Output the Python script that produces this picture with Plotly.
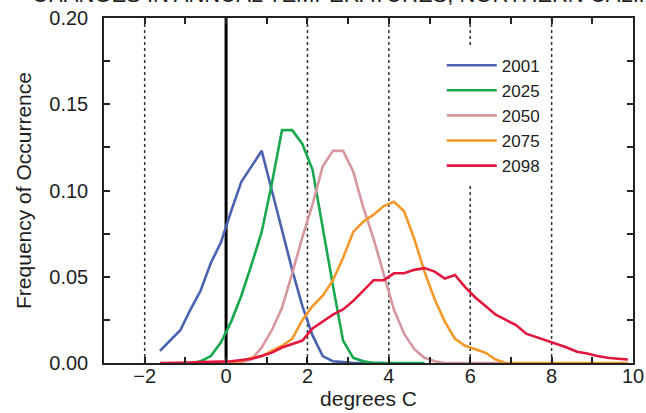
import plotly.graph_objects as go

# ---- data ----
years = ["2001", "2025", "2050", "2075", "2098"]
colors = ["#4a62b0", "#18a84e", "#d6979f", "#f5982a", "#e2163e"]

x_2001 = [-1.625, -1.375, -1.125, -0.875, -0.625, -0.375, -0.125, 0.125, 0.375, 0.625, 0.875,
          1.125, 1.375, 1.625, 1.875, 2.125, 2.375, 2.625, 2.875, 3.125, 3.375, 3.625, 3.875]
y_2001 = [0.007, 0.013, 0.019, 0.031, 0.042, 0.058, 0.070, 0.088, 0.105, 0.114, 0.123,
          0.100, 0.077, 0.054, 0.033, 0.016, 0.004, 0.001, 0.0005, 0.0, 0.0, 0.0, 0.0]

x_2025 = [-0.875, -0.625, -0.375, -0.125, 0.125, 0.375, 0.625, 0.875, 1.125, 1.375, 1.625,
          1.875, 2.125, 2.375, 2.625, 2.875, 3.125, 3.375, 3.625, 3.875, 4.125, 4.375, 4.625, 4.875]
y_2025 = [0.0, 0.001, 0.004, 0.012, 0.024, 0.039, 0.057, 0.076, 0.104, 0.135, 0.135,
          0.127, 0.112, 0.078, 0.045, 0.013, 0.003, 0.001, 0.0, 0.0, 0.0, 0.0, 0.0, 0.0]

x_2050 = [0.125, 0.375, 0.625, 0.875, 1.125, 1.375, 1.625, 1.875, 2.125, 2.375, 2.625, 2.875,
          3.125, 3.375, 3.625, 3.875, 4.125, 4.375, 4.625, 4.875, 5.125, 5.375, 5.625, 5.875,
          6.125, 6.375, 6.625, 6.875]
y_2050 = [0.0, 0.0005, 0.002, 0.009, 0.019, 0.032, 0.052, 0.073, 0.092, 0.114, 0.123, 0.123,
          0.111, 0.090, 0.072, 0.052, 0.031, 0.017, 0.008, 0.003, 0.001, 0.0, 0.0, 0.0,
          0.0, 0.0, 0.0, 0.0]

x_2075 = [-0.125, 0.125, 0.375, 0.625, 0.875, 1.125, 1.375, 1.625, 1.875, 2.125, 2.375, 2.625,
          2.875, 3.125, 3.375, 3.625, 3.875, 4.125, 4.375, 4.625, 4.875, 5.125, 5.375, 5.625,
          5.875, 6.125, 6.375, 6.625, 6.875, 7.125, 7.375, 7.625, 7.875, 8.125, 8.375, 8.625,
          8.875, 9.125, 9.375, 9.625, 9.875]
y_2075 = [0.0, 0.0005, 0.001, 0.003, 0.004, 0.007, 0.010, 0.014, 0.025, 0.033, 0.039, 0.048,
          0.061, 0.076, 0.082, 0.086, 0.091, 0.0935, 0.088, 0.072, 0.053, 0.037, 0.024, 0.014,
          0.010, 0.008, 0.006, 0.002, 0.0, 0.0, 0.0, 0.0, 0.0, 0.0, 0.0, 0.0,
          0.0, 0.0, 0.0, 0.0, 0.0]

x_2098 = [-1.625, -1.375, -1.125, -0.875, -0.625, -0.375, -0.125, 0.125, 0.375, 0.625, 0.875,
          1.125, 1.375, 1.625, 1.875, 2.125, 2.375, 2.625, 2.875, 3.125, 3.375, 3.625, 3.875,
          4.125, 4.375, 4.625, 4.875, 5.125, 5.375, 5.625, 5.875, 6.125, 6.375, 6.625, 6.875,
          7.125, 7.375, 7.625, 7.875, 8.125, 8.375, 8.625, 8.875, 9.125, 9.375, 9.625, 9.875]
y_2098 = [0.0, 0.0, 0.0002, 0.0003, 0.0005, 0.0006, 0.0008, 0.001, 0.0017, 0.0025, 0.004,
          0.006, 0.009, 0.011, 0.013, 0.020, 0.024, 0.028, 0.031, 0.036, 0.042, 0.048, 0.048,
          0.052, 0.052, 0.054, 0.055, 0.053, 0.049, 0.051, 0.044, 0.038, 0.033, 0.028, 0.025,
          0.022, 0.017, 0.015, 0.013, 0.011, 0.009, 0.0065, 0.0055, 0.004, 0.003, 0.0025, 0.002]

xs = [x_2001, x_2025, x_2050, x_2075, x_2098]
ys = [y_2001, y_2025, y_2050, y_2075, y_2098]

x_tickvals = list(range(-3, 11))
x_ticktext = ["", "\u22122", "", "0", "", "2", "", "4", "", "6", "", "8", "", "10"]
y_tickvals = [0, 0.025, 0.05, 0.075, 0.1, 0.125, 0.15, 0.175, 0.2]
y_ticktext = ["0.00", "", "0.05", "", "0.10", "", "0.15", "", "0.20"]
dotted_x = [-2, 2, 4, 6, 8]
zero_x = 0

title_text = "CHANGES IN ANNUAL TEMPERATURES, NORTHERN CALIFORNIA"

FONT = "Liberation Sans, Arial, Helvetica, sans-serif"
TXT = "#1e1e1e"

fig = go.Figure()
for name, x, y, c in zip(years, xs, ys, colors):
    fig.add_trace(go.Scatter(x=x, y=y, mode="lines", name=name,
                             line=dict(color=c, width=2.6)))

shapes = []
for xv in dotted_x:
    shapes.append(dict(type="line", xref="x", yref="paper", x0=xv, x1=xv, y0=0, y1=1,
                       line=dict(color="#333333", width=1.5, dash="dot"), layer="below"))
shapes.append(dict(type="line", xref="x", yref="paper", x0=zero_x, x1=zero_x, y0=0, y1=1,
                   line=dict(color="black", width=3), layer="below"))

fig.update_layout(
    width=646, height=413,
    margin=dict(l=104, r=13, t=18, b=50, autoexpand=False),
    paper_bgcolor="white", plot_bgcolor="white",
    font=dict(family=FONT, size=20, color=TXT),
    shapes=shapes,
    showlegend=True,
    legend=dict(x=0.6385, y=0.914, xanchor="left", yanchor="top",
                bgcolor="white", borderwidth=0,
                font=dict(size=17, color=TXT),
                itemwidth=50, tracegroupgap=0),
    annotations=[dict(text=title_text, xref="paper", yref="paper",
                      x=-0.14, y=1, xanchor="left", yanchor="bottom", yshift=9,
                      showarrow=False, font=dict(size=22, color=TXT))],
)

fig.update_xaxes(range=[-3, 10], tickmode="array", tickvals=x_tickvals, ticktext=x_ticktext,
                 ticks="inside", ticklen=6, tickwidth=1.5, tickcolor="#222",
                 showline=True, linecolor="#222", linewidth=1.5, mirror="ticks",
                 showgrid=False, zeroline=False, ticklabelstandoff=-6, automargin=False,
                 title=dict(text="degrees C", font=dict(size=21), standoff=4))
fig.update_yaxes(range=[0, 0.2], tickmode="array", tickvals=y_tickvals, ticktext=y_ticktext,
                 ticks="inside", ticklen=6, tickwidth=1.5, tickcolor="#222",
                 showline=True, linecolor="#222", linewidth=1.5, mirror="ticks",
                 showgrid=False, zeroline=False, ticklabelstandoff=10, automargin=False,
                 title=dict(text="Frequency of Occurrence", font=dict(size=21), standoff=12))

fig.write_html("out.html")
